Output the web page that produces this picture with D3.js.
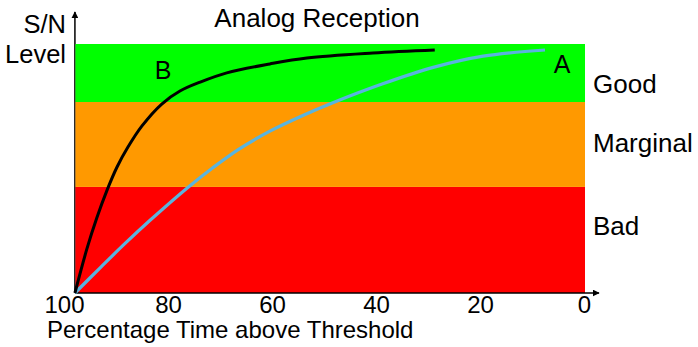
<!DOCTYPE html>
<html>
<head>
<meta charset="utf-8">
<script src="https://cdn.jsdelivr.net/npm/d3@7"></script>
<style>
  html, body { margin: 0; padding: 0; background: #fff; }
  svg { display: block; font-family: "Liberation Sans", Arial, sans-serif; }
</style>
</head>
<body>
<svg id="chart" width="698" height="347"></svg>
<script>
// Percentage of time the signal stays above threshold (x) vs S/N level (y, 0-100)
const xTicks = [100, 80, 60, 40, 20, 0];
const xStart = 97.9;   // where the quality bands and curves begin

// Quality bands on the S/N scale
const bandNames = ["Bad", "Marginal", "Good"];
const bandLow   = [0, 42.6, 76.7];
const bandHigh  = [42.6, 76.7, 100];
const bandLabelLevel = [23.3, 56.6, 80.3];
const bandColors = ["#ff0000", "#ff9900", "#00ff00"];

// Curve B (black) – reaches the good region quickly
const curveBx = [97.9, 95.6, 93.7, 91.7, 89.8, 87.7, 85.0, 81.2, 77.7, 73.8, 68.7, 60.4, 53.3, 40.6, 28.7];
const curveBy = [0, 17.7, 30.1, 41.4, 50.6, 58.6, 67.1, 75.9, 81.1, 84.7, 88.4, 92.0, 94.4, 96.4, 97.6];

// Curve A (blue) – slower rise
const curveAx = [97.9, 93.1, 88.3, 83.5, 76.3, 71.5, 66.5, 60.4, 54.6, 48.3, 38.7, 29.0, 19.4, 7.5];
const curveAy = [0, 10.0, 19.8, 29.1, 42.2, 50.1, 57.6, 65.0, 70.8, 76.4, 84.0, 90.6, 95.1, 97.6];

const svg = d3.select("#chart");

const x = d3.scaleLinear().domain([100, 0]).range([64, 584]);
const y = d3.scaleLinear().domain([0, 100]).range([293, 44]);

// Arrow marker for axes
svg.append("defs").append("marker")
  .attr("id", "arrow")
  .attr("viewBox", "0 0 10 10")
  .attr("refX", 9).attr("refY", 5)
  .attr("markerWidth", 7).attr("markerHeight", 7)
  .attr("markerUnits", "userSpaceOnUse")
  .attr("orient", "auto")
  .append("path").attr("d", "M0,0 L10,5 L0,10 Z").attr("fill", "#000");

// Y axis line with arrow
svg.append("line")
  .attr("x1", x(xStart)).attr("x2", x(xStart))
  .attr("y1", y(0)).attr("y2", 12)
  .attr("stroke", "#000").attr("stroke-width", 1.5)
  .attr("marker-end", "url(#arrow)");

// Quality bands
svg.selectAll("rect.band")
  .data(bandNames)
  .join("rect")
  .attr("class", "band")
  .attr("x", x(xStart) + 0.5)
  .attr("width", x(0) + 1 - x(xStart) - 0.5)
  .attr("y", (d, i) => y(bandHigh[i]))
  .attr("height", (d, i) => y(bandLow[i]) - y(bandHigh[i]))
  .attr("fill", (d, i) => bandColors[i]);

// Band labels on the right
svg.selectAll("text.bandLabel")
  .data(bandNames)
  .join("text")
  .attr("class", "bandLabel")
  .attr("x", 593)
  .attr("y", (d, i) => y(bandLabelLevel[i]))
  .attr("font-size", 26)
  .attr("fill", "#000")
  .text(d => d);

// X axis line with arrow
svg.append("line")
  .attr("x1", x(xStart)).attr("x2", 599)
  .attr("y1", y(0)).attr("y2", y(0))
  .attr("stroke", "#000").attr("stroke-width", 1.5)
  .attr("marker-end", "url(#arrow)");

// X tick labels
const xAxis = svg.append("g")
  .attr("transform", `translate(0,${y(0)})`)
  .call(d3.axisBottom(x).tickValues(xTicks).tickSize(0).tickPadding(3).tickFormat(d3.format("d")));
xAxis.select(".domain").remove();
xAxis.selectAll("text")
  .attr("font-size", 24)
  .attr("font-family", "Liberation Sans, Arial, sans-serif")
  .attr("fill", "#000");

// Curves
const line = (xs, ys) => d3.line()
  .x((d, i) => x(xs[i]))
  .y((d, i) => y(ys[i]))
  .curve(d3.curveCatmullRom.alpha(0.5))(xs);

svg.append("path")
  .attr("d", line(curveAx, curveAy))
  .attr("fill", "none")
  .attr("stroke", "#5ab4de")
  .attr("stroke-width", 3.2);

svg.append("path")
  .attr("d", line(curveBx, curveBy))
  .attr("fill", "none")
  .attr("stroke", "#000")
  .attr("stroke-width", 3);

// Curve labels
svg.append("text").attr("x", 163).attr("y", 79).attr("text-anchor", "middle")
  .attr("font-size", 25).text("B");
svg.append("text").attr("x", 562).attr("y", 73).attr("text-anchor", "middle")
  .attr("font-size", 25).text("A");

// Title and axis titles
svg.append("text").attr("x", 317).attr("y", 27).attr("text-anchor", "middle")
  .attr("font-size", 26).text("Analog Reception");
svg.append("text").attr("x", 66).attr("y", 33).attr("text-anchor", "end")
  .attr("font-size", 25.5).text("S/N");
svg.append("text").attr("x", 66).attr("y", 63).attr("text-anchor", "end")
  .attr("font-size", 25.5).text("Level");
svg.append("text").attr("x", 47).attr("y", 338)
  .attr("font-size", 24).text("Percentage Time above Threshold");
</script>
</body>
</html>
